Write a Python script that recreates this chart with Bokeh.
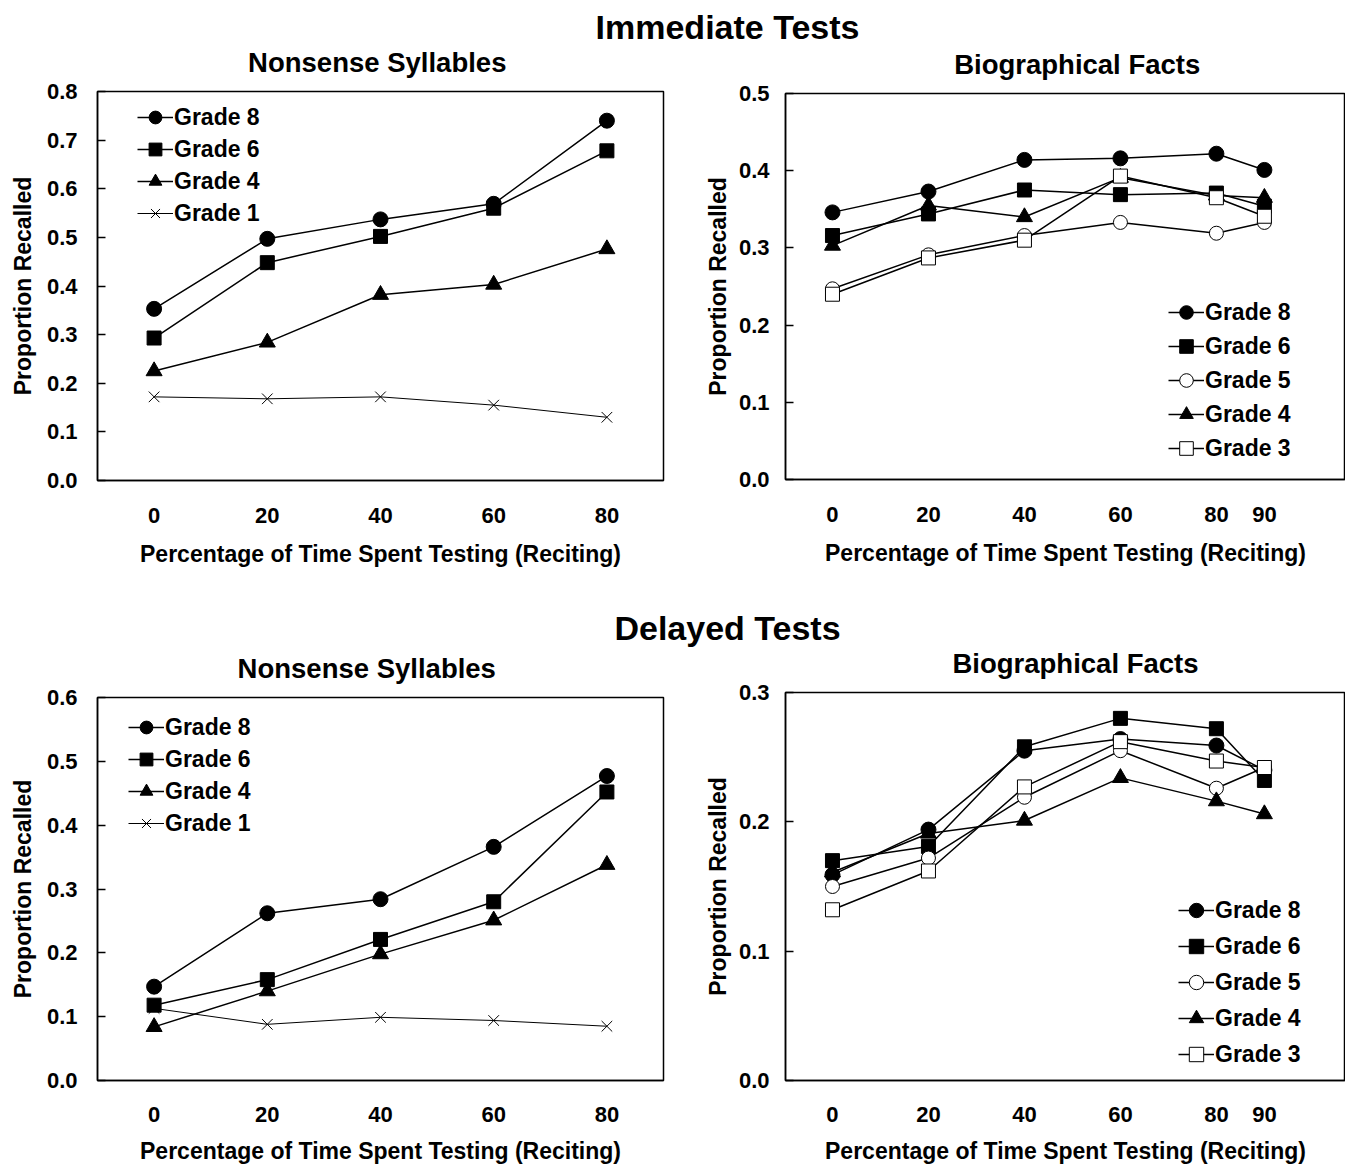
from bokeh.plotting import figure
from bokeh.layouts import column, row
from bokeh.models import Range1d, FixedTicker, PrintfTickFormatter, Legend, LegendItem
from bokeh.embed import file_html
from bokeh.resources import INLINE
from bokeh.core.properties import value

FONT = "Liberation Sans"

# ---------------- data ----------------
ns_x = [0, 20, 40, 60, 80]
bio_x = [0, 20, 40, 60, 80, 90]

imm_ns_g8 = [0.353, 0.497, 0.537, 0.569, 0.740]
imm_ns_g6 = [0.293, 0.448, 0.502, 0.560, 0.678]
imm_ns_g4 = [0.225, 0.284, 0.382, 0.403, 0.476]
imm_ns_g1 = [0.172, 0.168, 0.172, 0.155, 0.130]

imm_bio_g8 = [0.346, 0.373, 0.414, 0.416, 0.422, 0.401]
imm_bio_g6 = [0.316, 0.344, 0.375, 0.369, 0.371, 0.354]
imm_bio_g5 = [0.247, 0.291, 0.316, 0.333, 0.319, 0.333]
imm_bio_g4 = [0.303, 0.355, 0.340, 0.391, 0.368, 0.365]
imm_bio_g3 = [0.240, 0.287, 0.310, 0.393, 0.365, 0.341]

del_ns_g8 = [0.147, 0.262, 0.284, 0.366, 0.477]
del_ns_g6 = [0.118, 0.158, 0.221, 0.280, 0.452]
del_ns_g4 = [0.084, 0.140, 0.198, 0.251, 0.338]
del_ns_g1 = [0.113, 0.088, 0.099, 0.094, 0.085]

del_bio_g8 = [0.159, 0.194, 0.255, 0.264, 0.259, 0.240]
del_bio_g6 = [0.170, 0.181, 0.258, 0.280, 0.272, 0.232]
del_bio_g5 = [0.150, 0.172, 0.219, 0.255, 0.226, 0.242]
del_bio_g4 = [0.161, 0.191, 0.201, 0.234, 0.216, 0.206]
del_bio_g3 = [0.132, 0.162, 0.227, 0.262, 0.247, 0.242]

ns_ticks = [0, 20, 40, 60, 80]
bio_ticks = [0, 20, 40, 60, 80, 90]

imm_ns_yticks = [0.0, 0.1, 0.2, 0.3, 0.4, 0.5, 0.6, 0.7, 0.8]
imm_bio_yticks = [0.0, 0.1, 0.2, 0.3, 0.4, 0.5]
del_ns_yticks = [0.0, 0.1, 0.2, 0.3, 0.4, 0.5, 0.6]
del_bio_yticks = [0.0, 0.1, 0.2, 0.3]

main_titles = ["Immediate Tests", "Delayed Tests"]
sub_titles = ["Nonsense Syllables", "Biographical Facts"]
x_label = "Percentage of Time Spent Testing (Reciting)"
y_label = "Proportion Recalled"

# marker styles per grade
STYLE = {
    "Grade 8": dict(marker="circle", size=15, fill_color="black", lw=1.5),
    "Grade 6": dict(marker="square", size=14, fill_color="black", lw=1.5),
    "Grade 5": dict(marker="circle", size=14, fill_color="white", lw=1.5),
    "Grade 4": dict(marker="triangle", size=16, fill_color="black", lw=1.5),
    "Grade 3": dict(marker="square", size=14, fill_color="white", lw=1.5),
    "Grade 1": dict(marker="x", size=15, fill_color="black", lw=1.0),
}


def make_panel(width, height, mbl, mbr, mbt, mbb, xr, yr, xticks, yticks,
               series, xs, leg_loc, glyph_h, ylab_so, ytick_so, xtick_so, xlab_so):
    p = figure(width=width, height=height, x_range=Range1d(*xr), y_range=Range1d(*yr),
               toolbar_location=None, output_backend="svg", title=None,
               min_border_left=mbl, min_border_right=mbr, min_border_top=mbt,
               min_border_bottom=mbb)
    p.xgrid.visible = False
    p.ygrid.visible = False
    p.outline_line_color = "black"
    p.outline_line_width = 1.5
    p.background_fill_color = "white"
    p.border_fill_color = "white"

    p.xaxis.ticker = FixedTicker(ticks=xticks)
    p.yaxis.ticker = FixedTicker(ticks=yticks)
    p.yaxis.formatter = PrintfTickFormatter(format="%.1f")
    p.xaxis.major_tick_in = 0
    p.xaxis.major_tick_out = 0
    p.yaxis.major_tick_in = 8
    p.yaxis.major_tick_out = 0
    p.axis.minor_tick_line_color = None
    p.axis.axis_line_color = "black"
    p.axis.axis_line_width = 1.5
    p.axis.major_tick_line_color = "black"
    p.axis.major_tick_line_width = 1.5
    p.axis.major_label_text_font = FONT
    p.axis.major_label_text_font_size = "22px"
    p.axis.major_label_text_font_style = "bold"
    p.axis.major_label_text_color = "black"
    p.axis.axis_label_text_font = FONT
    p.axis.axis_label_text_font_size = "23px"
    p.axis.axis_label_text_font_style = "bold"
    p.axis.axis_label_text_color = "black"
    p.xaxis.major_label_standoff = xtick_so
    p.xaxis.axis_label_standoff = xlab_so
    p.yaxis.major_label_standoff = ytick_so
    p.yaxis.axis_label_standoff = ylab_so
    p.xaxis.axis_label = x_label
    p.yaxis.axis_label = y_label

    items = []
    for name, ys in series:
        st = STYLE[name]
        lr = p.line(xs, ys, line_color="black", line_width=st["lw"])
        sr = p.scatter(xs, ys, marker=st["marker"], size=st["size"],
                       fill_color=st["fill_color"], line_color="black", line_width=1.0)
        items.append(LegendItem(label=name, renderers=[lr, sr]))

    leg = Legend(items=items, location=leg_loc, spacing=0,
                 glyph_width=36, glyph_height=glyph_h, label_height=glyph_h,
                 label_standoff=1, padding=0, margin=0,
                 border_line_alpha=0, background_fill_alpha=0)
    leg.label_text_font = FONT
    leg.label_text_font_size = "23px"
    leg.label_text_font_style = "bold"
    leg.label_text_color = "black"
    p.add_layout(leg)
    return p


def header(width, height, text, x, y, size):
    # text strip (y measured from the top); in a column its frame lines up
    # with the panel frame below it
    h = figure(width=width, height=height, x_range=Range1d(0, width),
               y_range=Range1d(height, 0),
               toolbar_location=None, output_backend="svg", min_border=0,
               x_axis_location=None, y_axis_location=None, title=None)
    h.outline_line_color = None
    h.xgrid.visible = False
    h.ygrid.visible = False
    h.text(x=[x], y=[y], text=[text], text_align="center",
           text_baseline="middle", text_font=value(FONT), text_font_size=size,
           text_font_style="bold", text_color="black")
    return h


MAIN = "34px"
SUB = "27.5px"

h1 = header(1345, 46, main_titles[0], 727, 26, MAIN)
h1l = header(700, 32, sub_titles[0], 346, 16, SUB)
h1r = header(645, 34, sub_titles[1], 336, 18, SUB)

tl = make_panel(700, 512, 97, 37, 13, 110, (-10, 90), (0, 0.8),
                ns_ticks, imm_ns_yticks,
                [("Grade 8", imm_ns_g8), ("Grade 6", imm_ns_g6),
                 ("Grade 4", imm_ns_g4), ("Grade 1", imm_ns_g1)],
                ns_x, (40, 251), 32, 8, 20, 27, 15)

tr = make_panel(645, 510, 85, 0, 13, 111, (-9.79, 106.9), (0, 0.5),
                bio_ticks, imm_bio_yticks,
                [("Grade 8", imm_bio_g8), ("Grade 6", imm_bio_g6), ("Grade 5", imm_bio_g5),
                 ("Grade 4", imm_bio_g4), ("Grade 3", imm_bio_g3)],
                bio_x, (383, 14), 34, 5, 16, 27, 15)

h2 = header(1345, 57, main_titles[1], 727, 37, MAIN)
h2l = header(700, 37, sub_titles[0], 333, 21, SUB)
h2r = header(645, 32, sub_titles[1], 334, 16, SUB)

bl = make_panel(700, 483, 97, 37, 13, 87, (-10, 90), (0, 0.6),
                ns_ticks, del_ns_yticks,
                [("Grade 8", del_ns_g8), ("Grade 6", del_ns_g6),
                 ("Grade 4", del_ns_g4), ("Grade 1", del_ns_g1)],
                ns_x, (31, 241), 32, 8, 20, 26, 13)

br = make_panel(645, 488, 85, 0, 13, 87, (-9.79, 106.9), (0, 0.3),
                bio_ticks, del_bio_yticks,
                [("Grade 8", del_bio_g8), ("Grade 6", del_bio_g6), ("Grade 5", del_bio_g5),
                 ("Grade 4", del_bio_g4), ("Grade 3", del_bio_g3)],
                bio_x, (393, 8), 36, 5, 16, 26, 13)

layout = column(
    h1,
    row(column(h1l, tl), column(h1r, tr)),
    h2,
    row(column(h2l, bl), column(h2r, br)),
)

open("out.html", "w").write(file_html(layout, INLINE))
